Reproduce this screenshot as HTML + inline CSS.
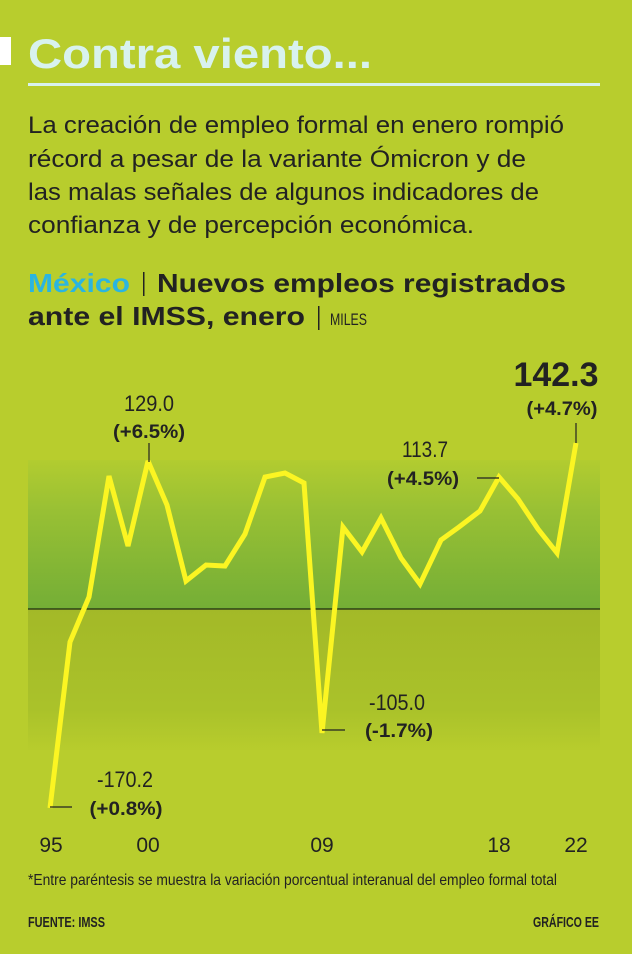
<!DOCTYPE html>
<html><head><meta charset="utf-8"><style>
html,body{margin:0;padding:0;background:#b8cd2d;}
svg{display:block;font-family:"Liberation Sans",sans-serif;}
</style></head><body>
<svg width="632" height="954" viewBox="0 0 632 954" xmlns="http://www.w3.org/2000/svg">
<defs>
<linearGradient id="up" x1="0" y1="0" x2="0" y2="1">
<stop offset="0" stop-color="#b2cc30"/><stop offset="0.35" stop-color="#98c034"/><stop offset="1" stop-color="#74ae36"/>
</linearGradient>
<linearGradient id="dn" x1="0" y1="0" x2="0" y2="1">
<stop offset="0" stop-color="#a3b928"/><stop offset="0.7" stop-color="#aac22a"/><stop offset="1" stop-color="#b8cd2d"/>
</linearGradient>
</defs>
<rect width="632" height="954" fill="#b8cd2d"/>
<rect x="0" y="37" width="11" height="28" fill="#ffffff"/>
<text x="28" y="68" font-size="42" font-weight="bold" fill="#d8f2ee" textLength="344" lengthAdjust="spacingAndGlyphs">Contra viento...</text>
<rect x="28" y="83" width="572" height="3" fill="#d8f2ee"/>
<g font-size="24" fill="#222">
<text x="28" y="133" textLength="536" lengthAdjust="spacingAndGlyphs">La creación de empleo formal en enero rompió</text>
<text x="28" y="167" textLength="498" lengthAdjust="spacingAndGlyphs">récord a pesar de la variante Ómicron y de</text>
<text x="28" y="200" textLength="511" lengthAdjust="spacingAndGlyphs">las malas señales de algunos indicadores de</text>
<text x="28" y="233" textLength="446" lengthAdjust="spacingAndGlyphs">confianza y de percepción económica.</text>
</g>
<text x="28" y="292" font-size="26" font-weight="bold" fill="#2bb5e0" textLength="102" lengthAdjust="spacingAndGlyphs">México</text>
<rect x="143" y="272" width="1.5" height="24" fill="#222"/>
<text x="157" y="292" font-size="26" font-weight="bold" fill="#222" textLength="409" lengthAdjust="spacingAndGlyphs">Nuevos empleos registrados</text>
<text x="28" y="325" font-size="26" font-weight="bold" fill="#222" textLength="277" lengthAdjust="spacingAndGlyphs">ante el IMSS, enero</text>
<rect x="318" y="306" width="1.5" height="24" fill="#222"/>
<text x="330" y="325" font-size="17" fill="#222" textLength="37" lengthAdjust="spacingAndGlyphs">MILES</text>

<rect x="28" y="460" width="572" height="149" fill="url(#up)"/>
<rect x="28" y="609" width="572" height="143" fill="url(#dn)"/>
<line x1="28" y1="609" x2="600" y2="609" stroke="#1f2a10" stroke-width="1.2"/>

<polyline fill="none" stroke="#fbf522" stroke-width="5" stroke-linejoin="miter" stroke-miterlimit="3"
points="50,808 70,642 89,597 109,476 128,546 148,461 167,505 186,581 206,565 225,566 245,534 265,477 285,473 304,483 322,733 343,527 362,552 381,518 401,558 420,584 441,540 459,527 480,511 499,477 518,499 538,529 557,553 576,443"/>

<g stroke="#222" stroke-width="1.2">
<line x1="149" y1="443" x2="149" y2="462"/>
<line x1="576" y1="423" x2="576" y2="443"/>
<line x1="477" y1="478" x2="499" y2="478"/>
<line x1="322" y1="730" x2="345" y2="730"/>
<line x1="50" y1="807" x2="72" y2="807"/>
</g>
<g fill="#222" text-anchor="middle">
<text x="149" y="411" font-size="22" textLength="50" lengthAdjust="spacingAndGlyphs">129.0</text>
<text x="149" y="438" font-size="19" font-weight="bold" textLength="72" lengthAdjust="spacingAndGlyphs">(+6.5%)</text>
<text x="556" y="386" font-size="34" font-weight="bold" textLength="85" lengthAdjust="spacingAndGlyphs">142.3</text>
<text x="562" y="415" font-size="19" font-weight="bold" textLength="71" lengthAdjust="spacingAndGlyphs">(+4.7%)</text>
<text x="425" y="457" font-size="22" textLength="46" lengthAdjust="spacingAndGlyphs">113.7</text>
<text x="423" y="485" font-size="19" font-weight="bold" textLength="72" lengthAdjust="spacingAndGlyphs">(+4.5%)</text>
<text x="397" y="710" font-size="22" textLength="56" lengthAdjust="spacingAndGlyphs">-105.0</text>
<text x="399" y="737" font-size="19" font-weight="bold" textLength="68" lengthAdjust="spacingAndGlyphs">(-1.7%)</text>
<text x="125" y="787" font-size="22" textLength="56" lengthAdjust="spacingAndGlyphs">-170.2</text>
<text x="126" y="815" font-size="19" font-weight="bold" textLength="73" lengthAdjust="spacingAndGlyphs">(+0.8%)</text>
<g font-size="21">
<text x="51" y="852">95</text><text x="148" y="852">00</text><text x="322" y="852">09</text><text x="499" y="852">18</text><text x="576" y="852">22</text>
</g>
</g>
<text x="28" y="885" font-size="16" fill="#222" textLength="529" lengthAdjust="spacingAndGlyphs">*Entre paréntesis se muestra la variación porcentual interanual del empleo formal total</text>
<text x="28" y="927" font-size="15" font-weight="bold" fill="#222" textLength="77" lengthAdjust="spacingAndGlyphs">FUENTE: IMSS</text>
<text x="533" y="927" font-size="15" font-weight="bold" fill="#222" textLength="66" lengthAdjust="spacingAndGlyphs">GRÁFICO EE</text>
</svg>
</body></html>
